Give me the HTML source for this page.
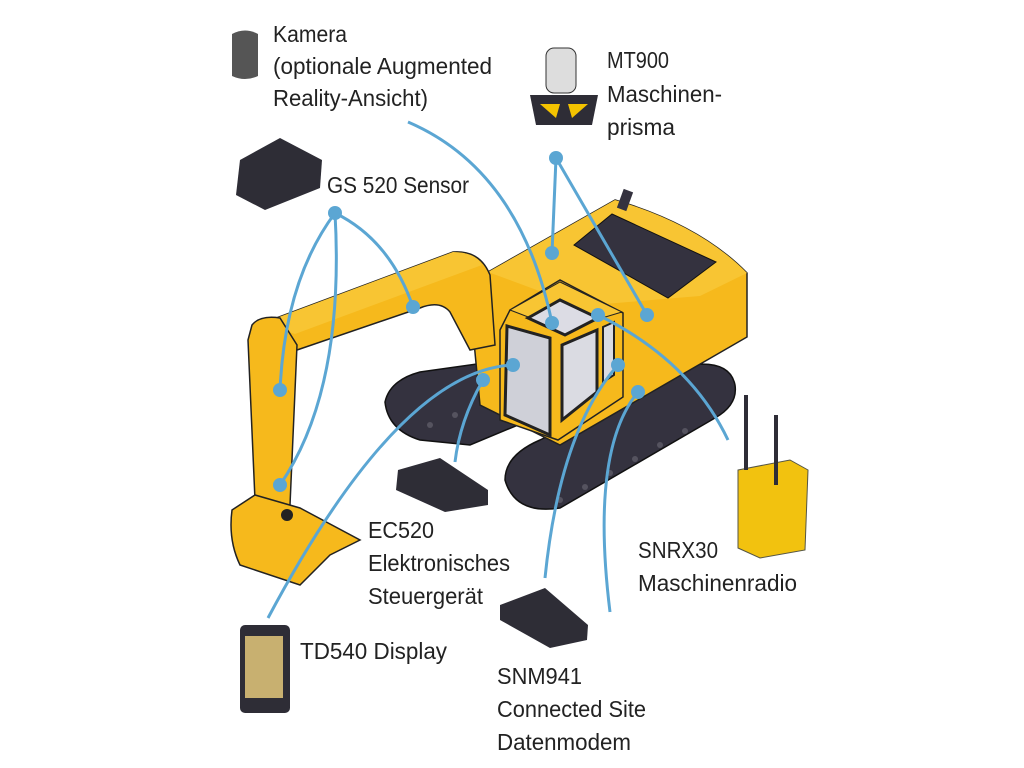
<!DOCTYPE html>
<html><head><meta charset="utf-8"><style>
html,body{margin:0;padding:0;background:#fff;}
svg{display:block}
text{font-family:"Liberation Sans",sans-serif;font-size:23px;fill:#222;}
</style></head><body>
<svg width="1024" height="768" viewBox="0 0 1024 768" xmlns="http://www.w3.org/2000/svg">
<!-- tracks -->
<g stroke="#111" stroke-width="1.5">
<path d="M385,402 Q390,380 420,372 L520,358 L530,420 L470,445 L420,440 Q388,430 385,402Z" fill="#34323f"/>
<path d="M505,480 Q505,455 540,440 L690,365 Q730,360 735,385 Q738,405 715,418 L560,508 Q515,515 505,480Z" fill="#34323f"/>
</g>
<g fill="#55535f">
<circle cx="560" cy="500" r="3"/><circle cx="585" cy="487" r="3"/><circle cx="610" cy="473" r="3"/><circle cx="635" cy="459" r="3"/><circle cx="660" cy="445" r="3"/><circle cx="685" cy="431" r="3"/>
<circle cx="430" cy="425" r="3"/><circle cx="455" cy="415" r="3"/>
</g>
<!-- upper body -->
<path d="M488,272 L615,200 Q700,225 747,273 L747,337 L560,445 L480,405 L470,300Z" fill="#f6b91c" stroke="#222" stroke-width="1.5"/>
<path d="M488,272 L615,200 Q700,225 747,273 L700,296 L580,306 Z" fill="#f8c533"/>
<path d="M574,245 L612,214 L716,262 L668,298Z" fill="#34323f" stroke="#111"/>
<rect x="620" y="190" width="10" height="20" fill="#34323f" transform="rotate(20 625 200)"/>
<!-- boom -->
<path d="M263,323 L453,252 Q480,250 490,275 L495,345 L470,350 L450,312 Q440,300 420,308 L297,350 Z" fill="#f6b91c" stroke="#222" stroke-width="1.5"/>
<path d="M263,323 L453,252 Q475,252 482,265 L295,334 Z" fill="#f8c533"/>
<!-- arm -->
<path d="M252,325 Q260,315 280,318 L297,345 L290,505 L272,512 L255,500 L248,340Z" fill="#f6b91c" stroke="#222" stroke-width="1.5"/>
<!-- bucket -->
<path d="M232,510 L255,495 L300,508 L360,540 L330,555 L300,585 L240,565 Q228,540 232,510Z" fill="#f6b91c" stroke="#222" stroke-width="1.5"/>
<circle cx="287" cy="515" r="6" fill="#222"/>
<!-- cab -->
<path d="M500,330 L510,310 L560,280 L623,313 L623,397 L558,440 L500,420Z" fill="#f6b91c" stroke="#222" stroke-width="1.5"/>
<path d="M510,310 L560,282 L622,312 L562,330Z" fill="#f8c533" stroke="#222"/>
<path d="M528,318 L560,300 L598,318 L565,335Z" fill="#dcdce4" stroke="#222" stroke-width="3"/>
<path d="M507,326 L550,338 L550,435 L505,415Z" fill="#cfd0d8" stroke="#222" stroke-width="3"/>
<path d="M562,345 L597,330 L597,392 L562,420Z" fill="#dadbe2" stroke="#222" stroke-width="3"/>
<path d="M603,327 L614,322 L614,375 L603,382Z" fill="#dadbe2" stroke="#222" stroke-width="2"/>
<!-- devices -->
<path d="M232,34 Q245,27 258,34 L258,76 Q245,82 232,76Z" fill="#555"/>
<rect x="546" y="48" width="30" height="45" rx="8" fill="#ddd" stroke="#333"/>
<path d="M530,95 L598,95 L592,125 L536,125Z" fill="#2e2d36"/>
<path d="M540,104 L560,104 L556,118Z M568,104 L588,104 L572,118Z" fill="#f4c300"/>
<path d="M240,160 L280,138 L322,160 L320,188 L265,210 L236,195Z" fill="#2e2d36"/>
<path d="M398,470 L440,458 L488,490 L488,505 L445,512 L396,490Z" fill="#2e2d36"/>
<path d="M500,605 L545,588 L588,625 L587,640 L550,648 L500,620Z" fill="#2e2d36"/>
<rect x="240" y="625" width="50" height="88" rx="5" fill="#2e2d36"/>
<rect x="245" y="636" width="38" height="62" fill="#c8b070"/>
<path d="M738,470 L790,460 L808,470 L805,550 L760,558 L738,548Z" fill="#f2c20f" stroke="#554" stroke-width="1"/>
<rect x="744" y="395" width="4" height="75" fill="#2e2d36"/><rect x="774" y="415" width="4" height="70" fill="#2e2d36"/>
<!-- blue connectors -->
<g fill="none" stroke="#5ba6d3" stroke-width="3">
<path d="M408,122 Q520,170 552,323"/>
<path d="M556,158 L552,253"/><path d="M556,158 L647,315"/>
<path d="M335,213 Q390,240 413,307"/><path d="M335,213 Q285,280 280,390"/><path d="M335,213 Q345,390 280,485"/>
<path d="M598,315 Q690,360 728,440"/>
<path d="M618,365 Q560,430 545,578"/>
<path d="M638,392 Q590,450 610,612"/>
<path d="M513,365 Q400,370 268,618"/>
<path d="M483,380 Q460,420 455,462"/>
</g>
<g fill="#5ba6d3">
<circle cx="556" cy="158" r="7"/><circle cx="552" cy="253" r="7"/><circle cx="647" cy="315" r="7"/><circle cx="552" cy="323" r="7"/>
<circle cx="335" cy="213" r="7"/><circle cx="413" cy="307" r="7"/><circle cx="280" cy="390" r="7"/><circle cx="280" cy="485" r="7"/>
<circle cx="598" cy="315" r="7"/><circle cx="618" cy="365" r="7"/><circle cx="638" cy="392" r="7"/><circle cx="513" cy="365" r="7"/><circle cx="483" cy="380" r="7"/>
</g>
<!-- labels -->
<g>
<text x="273" y="42" textLength="74" lengthAdjust="spacingAndGlyphs">Kamera</text>
<text x="273" y="74" textLength="219" lengthAdjust="spacingAndGlyphs">(optionale Augmented</text>
<text x="273" y="106" textLength="155" lengthAdjust="spacingAndGlyphs">Reality-Ansicht)</text>
<text x="607" y="68" textLength="62" lengthAdjust="spacingAndGlyphs">MT900</text>
<text x="607" y="102" textLength="115" lengthAdjust="spacingAndGlyphs">Maschinen-</text>
<text x="607" y="135" textLength="68" lengthAdjust="spacingAndGlyphs">prisma</text>
<text x="327" y="193" textLength="142" lengthAdjust="spacingAndGlyphs">GS 520 Sensor</text>
<text x="368" y="538" textLength="66" lengthAdjust="spacingAndGlyphs">EC520</text>
<text x="368" y="571" textLength="142" lengthAdjust="spacingAndGlyphs">Elektronisches</text>
<text x="368" y="604" textLength="115" lengthAdjust="spacingAndGlyphs">Steuergerät</text>
<text x="300" y="659" textLength="147" lengthAdjust="spacingAndGlyphs">TD540 Display</text>
<text x="638" y="558" textLength="80" lengthAdjust="spacingAndGlyphs">SNRX30</text>
<text x="638" y="591" textLength="159" lengthAdjust="spacingAndGlyphs">Maschinenradio</text>
<text x="497" y="684" textLength="85" lengthAdjust="spacingAndGlyphs">SNM941</text>
<text x="497" y="717" textLength="149" lengthAdjust="spacingAndGlyphs">Connected Site</text>
<text x="497" y="750" textLength="134" lengthAdjust="spacingAndGlyphs">Datenmodem</text>
</g>
</svg>
</body></html>
